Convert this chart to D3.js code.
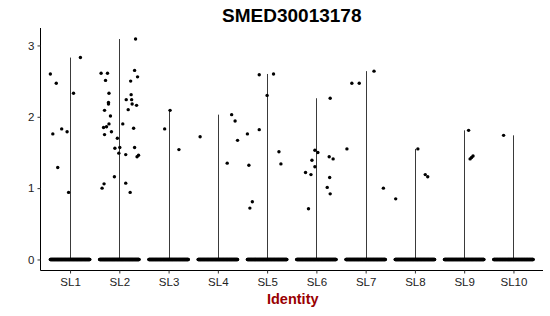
<!DOCTYPE html>
<html>

<head>
  <meta charset="utf-8">
  <style>
    body { margin: 0; background: #ffffff; }
    text { font-family: "Liberation Sans", Arial, sans-serif; }
    .tick-label { font-size: 11.5px; fill: #222222; }
    .title { font-size: 19px; font-weight: bold; fill: #000000; }
    .x-title { font-size: 14.5px; font-weight: bold; fill: #990000; }
  </style>
</head>

<body>
  <div id="chart"></div>
  <script src="https://cdn.jsdelivr.net/npm/d3@7"></script>
  <script>
    var groups = ['SL1', 'SL2', 'SL3', 'SL4', 'SL5', 'SL6', 'SL7', 'SL8', 'SL9', 'SL10'];
    var yTicks = [0, 1, 2, 3];

    // cells with zero expression in each group
    var zeroCounts = [140, 150, 140, 140, 140, 140, 140, 140, 140, 130];

    // expressing cells: value and jitter offset (in category widths)
    var sl1Values = [2.83, 2.60, 2.47, 2.33, 1.83, 1.79, 1.76, 1.29, 0.94];
    var sl1Jitter = [0.21, -0.40, -0.28, 0.07, -0.17, -0.06, -0.35, -0.25, -0.03];
    var sl2Values = [3.09, 2.61, 2.61, 2.65, 2.56, 2.51, 2.50, 2.33, 2.31, 2.24, 2.24, 2.20, 2.18, 2.18, 2.16, 2.10, 2.09, 2.01, 1.90,
      1.90, 1.86, 1.85, 1.84, 1.79, 1.75, 1.70, 1.56, 1.57, 1.57, 1.49, 1.47, 1.46, 1.44, 1.16, 1.07, 1.06, 1.00, 0.94];
    var sl2Jitter = [0.33, -0.37, -0.24, 0.31, 0.37, -0.28, 0.23, -0.21, 0.24, 0.14, 0.25, -0.22, -0.22, 0.26, 0.35, 0.18, -0.30, -0.18, -0.21,
      0.07, -0.26, -0.32, 0.29, -0.16, -0.30, -0.04, -0.09, 0.01, 0.31, -0.01, 0.13, 0.39, 0.36, -0.10, 0.13, -0.31, -0.35, 0.22];
    var sl3Values = [2.09, 1.83, 1.54];
    var sl3Jitter = [0.03, -0.08, 0.21];
    var sl4Values = [2.03, 1.94, 1.72, 1.67, 1.35];
    var sl4Jitter = [0.28, 0.35, -0.36, 0.40, 0.19];
    var sl5Values = [2.59, 2.60, 2.30, 1.76, 1.82, 1.51, 1.32, 1.34, 0.81, 0.72];
    var sl5Jitter = [-0.16, 0.13, 0.00, -0.40, -0.16, 0.24, -0.37, 0.28, -0.30, -0.35];
    var sl6Values = [2.26, 1.53, 1.50, 1.44, 1.41, 1.39, 1.30, 1.22, 1.19, 1.15, 1.01, 0.92, 0.71];
    var sl6Jitter = [0.28, -0.03, 0.03, 0.26, 0.34, -0.09, -0.03, -0.22, -0.11, 0.27, 0.22, 0.28, -0.16];
    var sl7Values = [2.64, 2.47, 2.47, 1.55, 1.00];
    var sl7Jitter = [0.17, -0.28, -0.13, -0.38, 0.36];
    var sl8Values = [1.55, 1.19, 1.16, 0.85];
    var sl8Jitter = [0.06, 0.21, 0.26, -0.39];
    var sl9Values = [1.81, 1.41, 1.43, 1.45];
    var sl9Jitter = [0.09, 0.12, 0.15, 0.18];
    var sl10Values = [1.74];
    var sl10Jitter = [-0.20];

    var groupValues = [sl1Values, sl2Values, sl3Values, sl4Values, sl5Values, sl6Values, sl7Values, sl8Values, sl9Values, sl10Values];
    var groupJitter = [sl1Jitter, sl2Jitter, sl3Jitter, sl4Jitter, sl5Jitter, sl6Jitter, sl7Jitter, sl8Jitter, sl9Jitter, sl10Jitter];

    var width = 550;
    var height = 316;
    var panelLeft = 40.5, panelRight = 543, panelTop = 28, panelBottom = 270.5;

    var svg = d3.select('#chart').append('svg')
      .attr('width', width)
      .attr('height', height);

    var allMax = d3.max(groupValues, function (v) { return d3.max(v); });
    var pad = allMax * 0.05;

    var x = d3.scalePoint().domain(groups).range([panelLeft, panelRight]).padding(0.6);
    var y = d3.scaleLinear().domain([-pad, allMax + pad]).range([panelBottom, panelTop]);
    var step = x.step();

    // build points
    var points = [];
    groups.forEach(function (g, i) {
      var n = zeroCounts[i];
      for (var k = 0; k < n; k++) {
        points.push({ group: g, value: 0, jitter: -0.4 + 0.8 * k / (n - 1) });
      }
      groupValues[i].forEach(function (v, j) {
        points.push({ group: g, value: v, jitter: groupJitter[i][j] });
      });
    });

    // violins (collapsed to a line since nearly all cells are zero)
    svg.append('g').selectAll('line')
      .data(groups)
      .enter()
      .append('line')
      .attr('x1', function (d) { return Math.round(x(d)) + 0.5; })
      .attr('x2', function (d) { return Math.round(x(d)) + 0.5; })
      .attr('y1', y(0))
      .attr('y2', function (d, i) { return y(d3.max(groupValues[i])); })
      .style('stroke', '#3a3a3a')
      .style('stroke-width', 1);

    svg.append('g').selectAll('circle')
      .data(points)
      .enter()
      .append('circle')
      .attr('cx', function (d) { return x(d.group) + d.jitter * step; })
      .attr('cy', function (d) { return y(d.value); })
      .attr('r', 1.7)
      .style('fill', '#000000');

    // axes
    var yAxis = svg.append('g')
      .attr('transform', 'translate(' + panelLeft + ',0)')
      .call(d3.axisLeft(y).tickValues(yTicks).tickSize(3).tickPadding(3).tickFormat(d3.format('d')));
    var xAxis = svg.append('g')
      .attr('transform', 'translate(0,' + panelBottom + ')')
      .call(d3.axisBottom(x).tickSize(3).tickPadding(4));

    xAxis.select('.domain').attr('d', 'M' + panelLeft + ',0H' + panelRight);
    yAxis.select('.domain').attr('d', 'M0,' + panelTop + 'V' + panelBottom);
    [xAxis, yAxis].forEach(function (a) {
      a.attr('font-family', null).attr('font-size', null);
      a.select('.domain').attr('stroke', '#000000').attr('stroke-width', 1);
      a.selectAll('.tick line').attr('stroke', '#333333');
      a.selectAll('.tick text').attr('class', 'tick-label');
    });

    svg.append('text')
      .attr('class', 'title')
      .attr('x', (panelLeft + panelRight) / 2)
      .attr('y', 22)
      .attr('text-anchor', 'middle')
      .text('SMED30013178');

    svg.append('text')
      .attr('class', 'x-title')
      .attr('x', (panelLeft + panelRight) / 2 + 1)
      .attr('y', 304)
      .attr('text-anchor', 'middle')
      .text('Identity');
  </script>
</body>

</html>
